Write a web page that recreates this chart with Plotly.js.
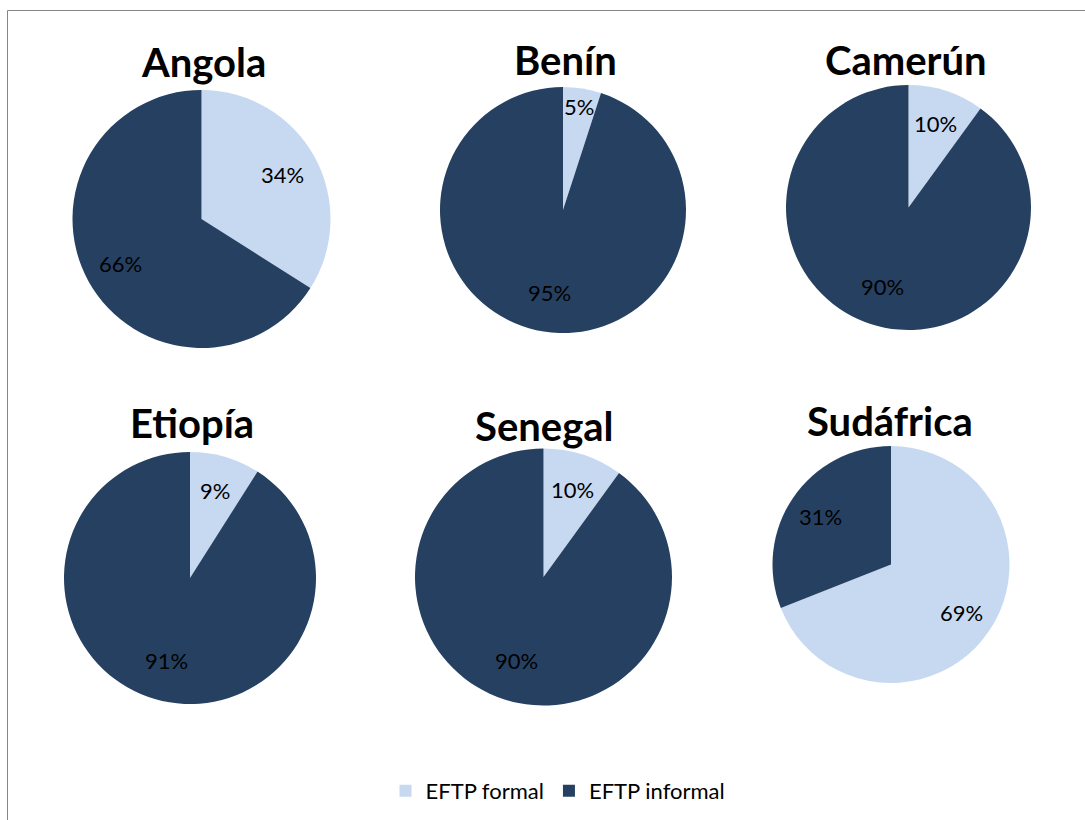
<!DOCTYPE html>
<html>
<head>
<meta charset="utf-8">
<script src="https://cdn.plot.ly/plotly-3.0.1.min.js"></script>
<style>
  html, body { margin: 0; padding: 0; background: #fff; }
  #chart { width: 1085px; height: 820px; }
</style>
</head>
<body>
<div id="chart"></div>
<script>
// ---- data ----
const countries = ["Angola", "Benín", "Camerún", "Etiopía", "Senegal", "Sudáfrica"];
const seriesLabels = ["EFTP formal", "EFTP informal"];
const formalValues = [34, 5, 10, 9, 10, 69];
const informalValues = [66, 95, 90, 91, 90, 31];

// ---- layout geometry (pixels) ----
const W = 1085, H = 820;
const geom = [
  {cx: 201.5, cy: 219,   r: 129},
  {cx: 563,   cy: 210,   r: 123},
  {cx: 908.5, cy: 207.5, r: 122.5},
  {cx: 190,   cy: 578,   r: 126},
  {cx: 543.5, cy: 577,   r: 128.5},
  {cx: 891,   cy: 564.5, r: 118.5}
];
const titlePos = [
  {x: 203, y: 62}, {x: 565, y: 60}, {x: 906, y: 60},
  {x: 192, y: 423}, {x: 544, y: 426}, {x: 890, y: 421}
];
const colors = ["#C6D9F1", "#264061"];
const FONT = "Lato, 'Open Sans', sans-serif";

const traces = [];
const annotations = [];

countries.forEach((name, i) => {
  const g = geom[i];
  const vals = [formalValues[i], informalValues[i]];
  traces.push({
    type: "pie",
    labels: seriesLabels,
    values: vals,
    sort: false,
    direction: "clockwise",
    rotation: 0,
    textinfo: "none",
    hoverinfo: "none",
    marker: {colors: colors, line: {width: 0}},
    showlegend: i === 0,
    domain: {
      x: [(g.cx - g.r) / W, (g.cx + g.r) / W],
      y: [1 - (g.cy + g.r) / H, 1 - (g.cy - g.r) / H]
    }
  });
  // title
  annotations.push({
    xref: "paper", yref: "paper",
    x: titlePos[i].x / W, y: 1 - titlePos[i].y / H,
    xanchor: "center", yanchor: "middle",
    text: "<b>" + name + "</b>",
    showarrow: false,
    font: {family: FONT, size: 40, color: "#000"}
  });
  // percent labels, placed from the data
  const total = vals[0] + vals[1];
  let cum = 0;
  vals.forEach((v) => {
    const frac = v / total;
    const mid = (cum + frac / 2) * 2 * Math.PI;
    cum += frac;
    const f = frac < 0.08 ? 0.85 : (frac > 0.85 ? 0.68 : 0.72);
    const px = g.cx + f * g.r * Math.sin(mid);
    const py = g.cy - f * g.r * Math.cos(mid);
    annotations.push({
      xref: "paper", yref: "paper",
      x: px / W, y: 1 - py / H,
      xanchor: "center", yanchor: "middle",
      text: Math.round(frac * 100) + "%",
      showarrow: false,
      font: {family: FONT, size: 22, color: "#000"}
    });
  });
});

const layout = {
  width: W, height: H,
  margin: {l: 0, r: 0, t: 0, b: 0},
  paper_bgcolor: "#fff",
  showlegend: true,
  legend: {
    orientation: "h",
    x: 558 / W, xanchor: "center",
    y: 1 - 791 / H, yanchor: "middle",
    font: {family: FONT, size: 22, color: "#000"},
    traceorder: "normal",
    itemclick: false, itemdoubleclick: false
  },
  annotations: annotations,
  shapes: [{
    type: "rect", xref: "paper", yref: "paper",
    x0: 7.5 / W, x1: 1.01, y0: -0.01, y1: 1 - 10.5 / H,
    line: {color: "#868686", width: 1}, fillcolor: "rgba(0,0,0,0)",
    layer: "below"
  }]
};

Plotly.newPlot("chart", traces, layout, {displayModeBar: false, staticPlot: true});
</script>
</body>
</html>
